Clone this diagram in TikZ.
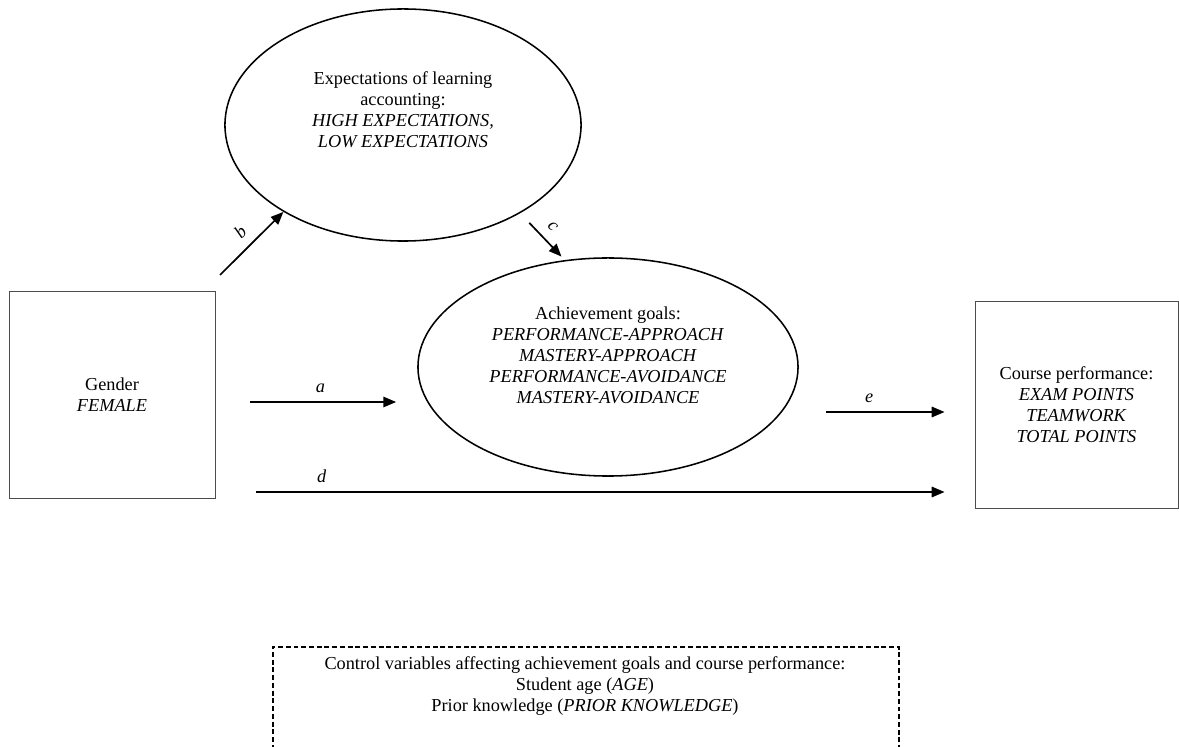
\documentclass[tikz,border=0pt]{standalone}
\usepackage{fontspec}
\setmainfont{Liberation Serif}
\usetikzlibrary{shapes.geometric,arrows.meta,positioning,calc}

\tikzset{
  varbox/.style={draw=black!70, line width=0.6pt, minimum height=5.175cm, align=center, font=\fontsize{13}{15}\selectfont},
  construct/.style={draw, ellipse, line width=1.1pt},
  txt/.style={align=center, font=\fontsize{13}{15}\selectfont},
  arr/.style={-{Triangle[length=0.32cm,width=0.26cm]}, line width=1.2pt},
  pathlbl/.style={above=3pt, font=\fontsize{13}{15}\selectfont\itshape},
  ctrlframe/.style={draw, dashed, line width=1.1pt, dash pattern=on 3.5pt off 2pt, anchor=north west},
}

\begin{document}
\begin{tikzpicture}[x=0.025cm, y=-0.025cm]
    \useasboundingbox (0,0) rectangle (1179,747);
    \clip (0,0) rectangle (1179,747);

    % latent constructs
    \node[construct, minimum width=8.9cm, minimum height=5.8cm] (expect) at (403,125) {};
    \node[txt] (expecttxt) at (403,110) {Expectations of learning\\ accounting:\\ \textit{HIGH EXPECTATIONS,}\\ \textit{LOW EXPECTATIONS}};
    \node[construct, minimum width=9.5cm, minimum height=5.45cm] (achieve) at (608,367) {};
    \node[txt] (achievetxt) at (608,355) {Achievement goals:\\ \textit{PERFORMANCE-APPROACH}\\ \textit{MASTERY-APPROACH}\\ \textit{PERFORMANCE-AVOIDANCE}\\ \textit{MASTERY-AVOIDANCE}};

    % observed variables
    \node[varbox, minimum width=5.15cm] (gender) at (112,394.5) {Gender\\ \textit{FEMALE}};
    \node[varbox, minimum width=5.075cm] (course) at (1076.5,404.5) {Course performance:\\ \textit{EXAM POINTS}\\ \textit{TEAMWORK}\\ \textit{TOTAL POINTS}};

    % controls
    \node[ctrlframe, minimum width=15.65cm, minimum height=3.75cm] (ctrlbox) at (272,646) {};
    \node[txt] (ctrltxt) at (585,686) {Control variables affecting achievement goals and course performance:\\ Student age (\textit{AGE})\\ Prior knowledge (\textit{PRIOR KNOWLEDGE})};

    % paths
    \coordinate (bfrom) at (220,275);
    \coordinate (rowa) at (0,402);
    \coordinate (rowe) at (0,412);
    \coordinate (rowd) at (0,492);

    \draw[arr] (bfrom) -- (expect.216) node[midway, sloped, pathlbl] {b};
    \draw[arr, shorten <=0.33cm, shorten >=0.12cm] (expect.323) -- (achieve.112) node[midway, sloped, pathlbl] {c};
    \draw[arr, shorten <=0.875cm, shorten >=0.525cm] (gender.east |- rowa) -- (achieve.west |- rowa) node[pos=0.52, pathlbl] {a};
    \draw[arr, shorten <=0.675cm, shorten >=0.75cm] (achieve.east |- rowe) -- (course.west |- rowe) node[pos=0.4, pathlbl] {e};
    \draw[arr, shorten <=1.025cm, shorten >=0.75cm] (gender.east |- rowd) -- (course.west |- rowd) node[pos=0.14, pathlbl] {d};
\end{tikzpicture}
\end{document}
